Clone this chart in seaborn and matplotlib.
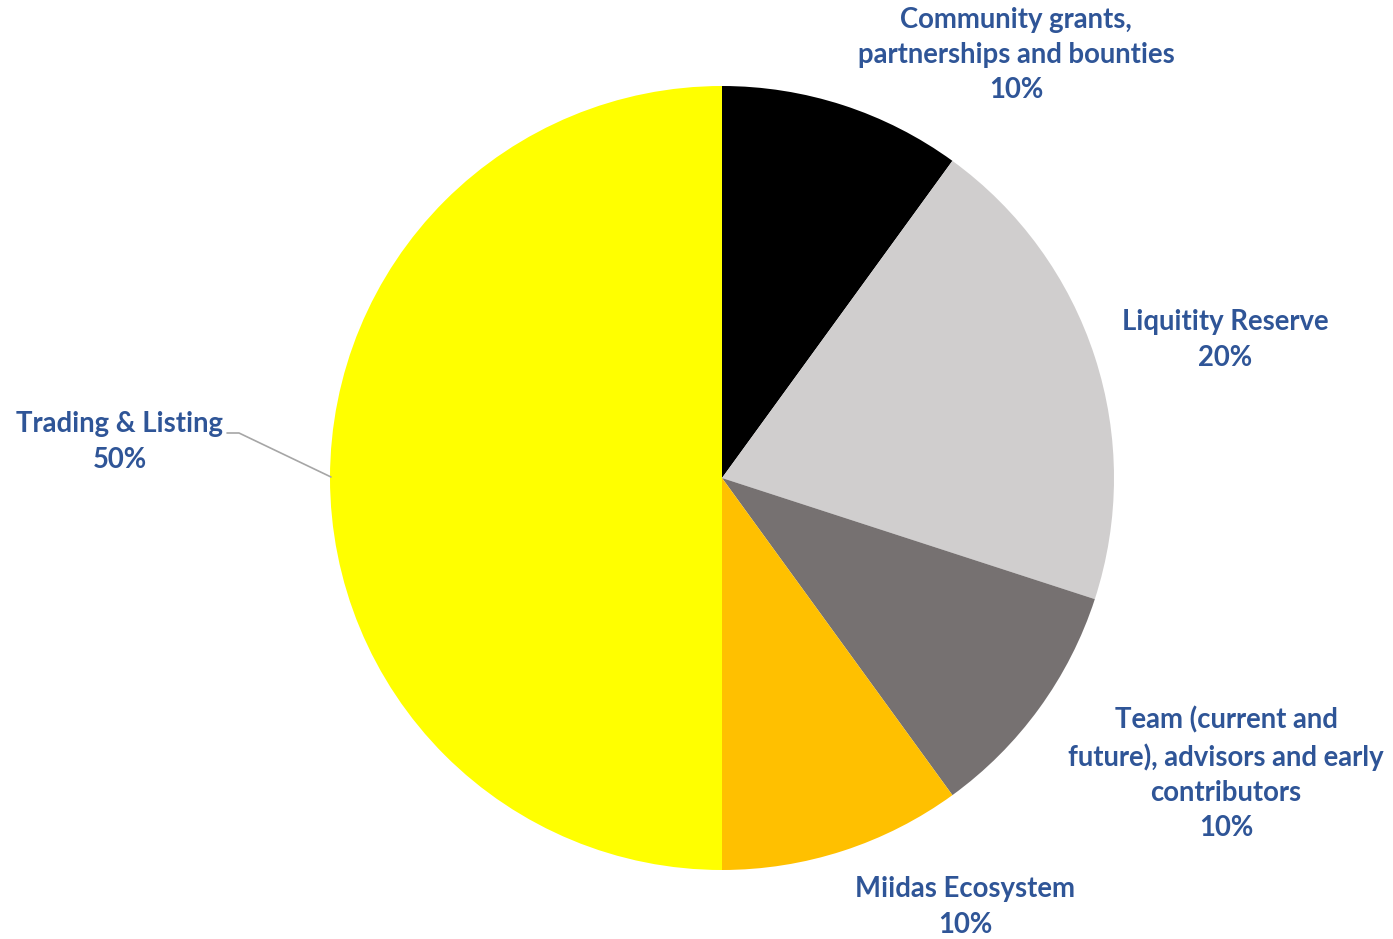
import matplotlib
matplotlib.use("Agg")
import matplotlib.pyplot as plt
import seaborn as sns

categories = ["Community grants,\npartnerships and bounties",
              "Liquitity Reserve",
              "Team (current and\nfuture), advisors and early\ncontributors",
              "Miidas Ecosystem",
              "Trading & Listing"]
values = [10, 20, 10, 10, 50]
pct_labels = ["10%", "20%", "10%", "10%", "50%"]
colors = ["#000000", "#D0CECE", "#767171", "#FFC000", "#FFFF00"]

sns.set_theme(style="white")
plt.rcParams['font.family'] = ['Lato', 'DejaVu Sans']

W, H = 1393, 939
fig = plt.figure(figsize=(W / 100, H / 100), dpi=100)
cx, cy, r = 722, 478, 392
ax = fig.add_axes([(cx - r) / W, (H - cy - r) / H, 2 * r / W, 2 * r / H])
ax.pie(values, colors=colors, startangle=90, counterclock=False,
       wedgeprops=dict(linewidth=0))
ax.set_xlim(-1, 1)
ax.set_ylim(-1, 1)
ax.set_aspect("equal")
ax.axis("off")

label_pos = [(1016, 55), (1225, 340), (1226, 774), (965, 907), (120, 442)]
txt_color = "#2F5597"
for cat, pct, (px, py) in zip(categories, pct_labels, label_pos):
    fig.text(px / W, 1 - py / H, cat + "\n" + pct, ha="center", va="center",
             fontsize=19.8, fontweight="bold", color=txt_color,
             linespacing=1.43)

# leader line for Trading & Listing
def to_data(px, py):
    return (px - cx) / r, (cy - py) / r

pts = [to_data(227, 433), to_data(239, 433), to_data(331, 477)]
ax.plot([p[0] for p in pts], [p[1] for p in pts], color="#A6A6A6",
        linewidth=1.2, clip_on=False)

fig.savefig("out.png", dpi=100, facecolor="white")
